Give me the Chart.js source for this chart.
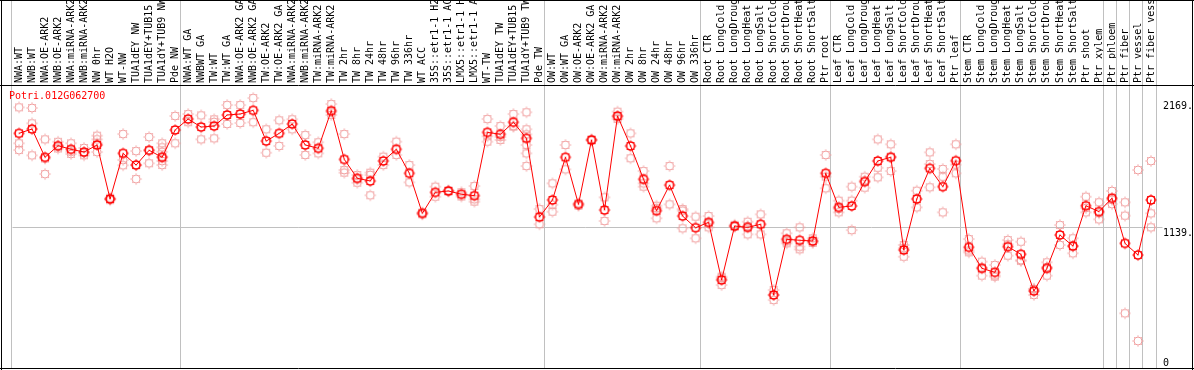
<!DOCTYPE html>
<html>
<head>
<meta charset="utf-8">
<script src="https://cdn.jsdelivr.net/npm/chart.js@4/dist/chart.umd.min.js"></script>
<style>
  html, body { margin: 0; padding: 0; background: #fff; }
  canvas { display: block; }
</style>
</head>
<body>
<canvas id="myChart" width="1194" height="370"></canvas>
<script>
// ----------- data ------------ //
let geneName = "Potri.012G062700";

let categories = [
  "NWA:WT", "NWB:WT", "NWA:OE-ARK2", "NWB:OE-ARK2", "NWA:miRNA-ARK2", "NWB:miRNA-ARK2",
  "NW 0hr", "WT H2O", "WT-NW", "TUA1dEY NW", "TUA1dEY+TUB15", "TUA1dY+TUB9 NW", "Pde NW",
  "NWA:WT GA", "NWBWT GA", "TW:WT", "TW:WT GA", "NWA:OE-ARK2 GA", "NWB:OE-ARK2 GA",
  "TW:OE-ARK2", "TW:OE-ARK2 GA", "NWA:miRNA-ARK2", "NWB:miRNA-ARK2", "TW:miRNA-ARK2",
  "TW:miRNA-ARK2", "TW 2hr", "TW 8hr", "TW 24hr", "TW 48hr", "TW 96hr", "TW 336hr",
  "WT ACC", "35S::etr1-1 H2O", "35S::etr1-1 ACC", "LMX5::etr1-1 H2O", "LMX5::etr1-1 ACC",
  "WT-TW", "TUA1dEY TW", "TUA1dEY+TUB15", "TUA1dY+TUB9 TW", "Pde TW",
  "OW:WT", "OW:WT GA", "OW:OE-ARK2", "OW:OE-ARK2 GA", "OW:miRNA-ARK2", "OW:miRNA-ARK2",
  "OW 2hr", "OW 8hr", "OW 24hr", "OW 48hr", "OW 96hr", "OW 336hr",
  "Root CTR", "Root LongCold", "Root LongDrought", "Root LongHeat", "Root LongSalt",
  "Root ShortCold", "Root ShortDrought", "Root ShortHeat", "Root ShortSalt", "Ptr root",
  "Leaf CTR", "Leaf LongCold", "Leaf LongDrought", "Leaf LongHeat", "Leaf LongSalt",
  "Leaf ShortCold", "Leaf ShortDrought", "Leaf ShortHeat", "Leaf ShortSalt", "Ptr leaf",
  "Stem CTR", "Stem LongCold", "Stem LongDrought", "Stem LongHeat", "Stem LongSalt",
  "Stem ShortCold", "Stem ShortDrought", "Stem ShortHeat", "Stem ShortSalt", "Ptr shoot",
  "Ptr xylem", "Ptr phloem", "Ptr fiber", "Ptr vessel", "Ptr fiber vessel"
];

let meanValues = [
  1909, 1944, 1714, 1808, 1779, 1757, 1814, 1375, 1746, 1651, 1771, 1714, 1936,
  2025, 1960, 1968, 2058, 2066, 2096, 1846, 1909, 1985, 1814, 1787, 2093, 1697,
  1543, 1521, 1684, 1779, 1584, 1258, 1429, 1440, 1413, 1402, 1917, 1901, 1999,
  1868, 1228,
  1367, 1714, 1331, 1855, 1285, 2050, 1806, 1535, 1280, 1488, 1236, 1141,
  1185, 716, 1155, 1144, 1169, 594, 1047, 1039, 1033, 1584,
  1307, 1318, 1516, 1684, 1714, 960, 1375, 1624, 1475, 1686,
  982, 811, 778, 987, 925, 626, 811, 1082, 992, 1320,
  1272, 1381, 1014, 919, 1367
];

let replicateValues = [
  [2120, 1828, 1773], [2115, 1990, 1730], [1860, 1704, 1578], [1840, 1800, 1785],
  [1828, 1759, 1741], [1790, 1749, 1730], [1890, 1860, 1828, 1757], [1385, 1375, 1365],
  [1903, 1692, 1649], [1765, 1651, 1537], [1879, 1771, 1665],
  [1828, 1795, 1759, 1719, 1684, 1651], [2050, 1828],
  [2066, 1999], [2055, 1860], [2023, 2001, 1868], [2139, 1985], [2139, 1993],
  [2196, 1999], [1942, 1751], [2015, 1806], [2023, 1942], [1895, 1733], [1836, 1746],
  [2147, 2080, 2058], [1903, 1611, 1589], [1570, 1535, 1507], [1589, 1570, 1405],
  [1719, 1651], [1841, 1733], [1651, 1510], [1265, 1250], [1475, 1393], [1445, 1435],
  [1430, 1395], [1480, 1373, 1353], [2025, 1885, 1841], [1968, 1880, 1855],
  [2066, 1968, 1963], [2080, 1942, 1900, 1814, 1746, 1643], [1293, 1169],
  [1502, 1328, 1271], [1814, 1616], [1340, 1320], [1861, 1850], [1388, 1196],
  [2085, 2040, 2025], [1909, 1706], [1602, 1502, 1475], [1320, 1300, 1218],
  [1643, 1331], [1293, 1280, 1136], [1231, 1055],
  [1236, 1175, 1144], [743, 730, 675], [1165, 1148], [1190, 1155, 1087], [1250, 1087],
  [634, 594, 553], [1096, 1030, 1014], [1144, 987, 965], [1055, 1028, 1017],
  [1733, 1557, 1462],
  [1361, 1295, 1266], [1475, 1361, 1122], [1556, 1525, 1467], [1860, 1629, 1551],
  [1820, 1720, 1602], [1001, 975, 905], [1442, 1307], [1754, 1659, 1470],
  [1619, 1556, 1266], [1820, 1654, 1584],
  [1049, 956, 941], [865, 817, 751], [838, 753, 743], [1041, 1006, 914],
  [1027, 878, 870], [644, 640, 594], [860, 822, 751], [1163, 1001], [1055, 988, 933],
  [1393, 1301, 1266],
  [1348, 1259, 1209], [1440, 1369, 1334], [1348, 1239, 445], [1611, 220],
  [1684, 1258, 1144]
];

// the axis shows these values only
let yTicks = [0, 1139, 2169];
let yTickLabels = ["0", "1139.", "2169."];
let yMax = 2302;

// a grey separator goes in front of these category indexes
let groupBreaks = [0, 13, 41, 53, 63, 73, 84, 85, 86, 87, 88];

// ------------- X ------------------ X ------------------

const MONO = "DejaVu Sans Mono";

// little ring with tiny teeth, like the old plot's marker
function makeMarker(color, lw, dot) {
  let c = document.createElement("canvas");
  c.width = 14; c.height = 14;
  let g = c.getContext("2d");
  g.strokeStyle = color;
  g.fillStyle = color;
  g.lineWidth = lw;
  g.beginPath();
  g.arc(7, 7, 4, 0, Math.PI * 2);
  g.stroke();
  g.lineWidth = 1;
  g.beginPath();
  for (let k = 0; k < 8; k++) {
    let t = k * Math.PI / 4;
    g.moveTo(7 + Math.cos(t) * 4.5, 7 + Math.sin(t) * 4.5);
    g.lineTo(7 + Math.cos(t) * 5.6, 7 + Math.sin(t) * 5.6);
  }
  g.stroke();
  if (dot) g.fillRect(6.5, 6.5, 1, 1);
  return c;
}

let meanMarker = makeMarker("#ff0000", 1.6, true);
let repMarker = makeMarker("#f09c9c", 1, false);

let maxReps = Math.max(...replicateValues.map(r => r.length));
let repSets = [];
for (let k = 0; k < maxReps; k++) {
  repSets.push({
    type: "line",
    data: replicateValues.map(r => (r[k] === undefined ? null : r[k])),
    showLine: false,
    pointStyle: repMarker,
    pointRadius: 5,
    order: 2
  });
}

// separators, frame, y labels and the gene name
let framePlugin = {
  id: "frame",
  beforeDatasetsDraw(chart) {
    let ctx = chart.ctx;
    let x = chart.scales.x;
    let a = chart.chartArea;
    let half = (x.getPixelForValue(1) - x.getPixelForValue(0)) / 2;
    ctx.save();
    ctx.strokeStyle = "#c0c0c0";
    ctx.lineWidth = 1;
    ctx.beginPath();
    for (let i of groupBreaks) {
      let px = Math.round(x.getPixelForValue(i) - half - 2) + 0.5;
      ctx.moveTo(px, 0);
      ctx.lineTo(px, a.bottom);
    }
    ctx.stroke();
    ctx.restore();
  },
  afterDraw(chart) {
    let ctx = chart.ctx;
    let y = chart.scales.y;
    let a = chart.chartArea;
    ctx.save();
    ctx.strokeStyle = "#000";
    ctx.lineWidth = 1;
    ctx.beginPath();
    ctx.moveTo(1.5, 0); ctx.lineTo(1.5, 370);
    ctx.moveTo(0, 0.5); ctx.lineTo(1194, 0.5);
    ctx.moveTo(1192.5, 0); ctx.lineTo(1192.5, 370);
    ctx.moveTo(0, a.top + 0.5); ctx.lineTo(1194, a.top + 0.5);
    ctx.moveTo(0, a.bottom + 0.5); ctx.lineTo(1194, a.bottom + 0.5);
    ctx.stroke();

    ctx.font = "10px " + MONO;
    ctx.fillStyle = "#000";
    ctx.textAlign = "left";
    yTicks.forEach((v, i) => {
      let py = y.getPixelForValue(v);
      if (v === 0) {
        ctx.textBaseline = "bottom";
        ctx.fillText(yTickLabels[i], 1163, py);
      } else {
        ctx.textBaseline = "top";
        ctx.fillText(yTickLabels[i], 1163, py);
      }
    });

    ctx.fillStyle = "#ff0000";
    ctx.textBaseline = "top";
    ctx.fillText(geneName, 9, a.top + 6);
    ctx.restore();
  }
};

new Chart("myChart", {
  data: {
    labels: categories,
    datasets: [{
      type: "line",
      data: meanValues,
      borderColor: "#ff0000",
      borderWidth: 1,
      pointStyle: meanMarker,
      pointRadius: 5,
      order: 1
    }].concat(repSets)
  },
  options: {
    responsive: false,
    animation: false,
    devicePixelRatio: 1,
    layout: { autoPadding: false, padding: { left: 12.5, right: 0, top: 0, bottom: 2 } },
    plugins: { legend: { display: false }, tooltip: { enabled: false } },
    scales: {
      x: {
        type: "category",
        position: "top",
        offset: true,
        grid: { display: false, drawTicks: false },
        border: { display: false },
        ticks: {
          autoSkip: false,
          minRotation: 90,
          maxRotation: 90,
          padding: 2,
          labelOffset: 12,
          color: "#000",
          font: { family: MONO, size: 10 }
        },
        afterFit: s => { s.height = 85; }
      },
      y: {
        position: "right",
        min: 0,
        max: yMax,
        afterBuildTicks: s => { s.ticks = yTicks.map(v => ({ value: v })); },
        ticks: { display: false },
        grid: {
          color: c => (c.tick && c.tick.value === 1139 ? "#c0c0c0" : "rgba(0,0,0,0)"),
          drawTicks: true,
          tickLength: 5
        },
        border: { display: false },
        afterFit: s => { s.width = 36.5; }
      }
    }
  },
  plugins: [framePlugin]
});
</script>
</body>
</html>
